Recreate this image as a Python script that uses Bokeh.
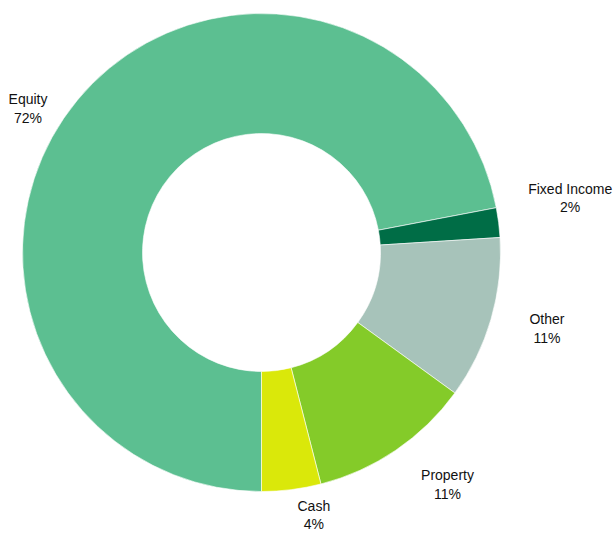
import math
from bokeh.plotting import figure
from bokeh.models import Range1d, ColumnDataSource
from bokeh.core.properties import value
from bokeh.embed import file_html
from bokeh.resources import INLINE

# Data
categories = ["Equity", "Fixed Income", "Other", "Property", "Cash"]
shares = [72, 2, 11, 11, 4]
colors = ["#5CBF91", "#006D46", "#A7C3BA", "#84CB29", "#DAE80A"]

W, H = 616, 533
cx, cy = 261, H - 252      # chart centre in data (pixel) units
r_out, r_in = 239, 119
r_label = 290
# small layout nudges for labels (screen px, x right / y down)
nudges = {"Equity": (-10, 41), "Fixed Income": (21, -18), "Other": (7, -5),
          "Property": (23, -8), "Cash": (16, -25)}

total = sum(shares)
start_deg = 180.0  # clockwise from 12 o'clock, start at 6 o'clock
starts, ends, lx, ly, texts = [], [], [], [], []
acc = start_deg
for cat, v in zip(categories, shares):
    a0 = acc
    a1 = acc + 360.0 * v / total
    acc = a1
    starts.append(math.radians(90 - a0))
    ends.append(math.radians(90 - a1))
    mid = math.radians((a0 + a1) / 2)
    nx, ny = nudges[cat]
    lx.append(cx + r_label * math.sin(mid) + nx)
    ly.append(cy + r_label * math.cos(mid) - ny)
    texts.append(f"{cat}\n{v}%")

src = ColumnDataSource(dict(start=starts, end=ends, color=colors))
lsrc = ColumnDataSource(dict(x=lx, y=ly, text=texts))

p = figure(width=W, height=H, output_backend="svg", toolbar_location=None,
           x_range=Range1d(0, W), y_range=Range1d(0, H), min_border=0)
p.axis.visible = False
p.grid.visible = False
p.outline_line_color = None
p.background_fill_color = "white"

p.annular_wedge(x=cx, y=cy, inner_radius=r_in, outer_radius=r_out,
                start_angle="start", end_angle="end", direction="clock",
                fill_color="color", line_color="white", line_width=0.6,
                source=src)

p.text(x="x", y="y", text="text", source=lsrc, text_align="center",
       text_baseline="middle", text_font=value("Liberation Sans"),
       text_font_size="14px", text_color="#111111", text_line_height=1.15)

open("out.html", "w").write(file_html(p, INLINE))
